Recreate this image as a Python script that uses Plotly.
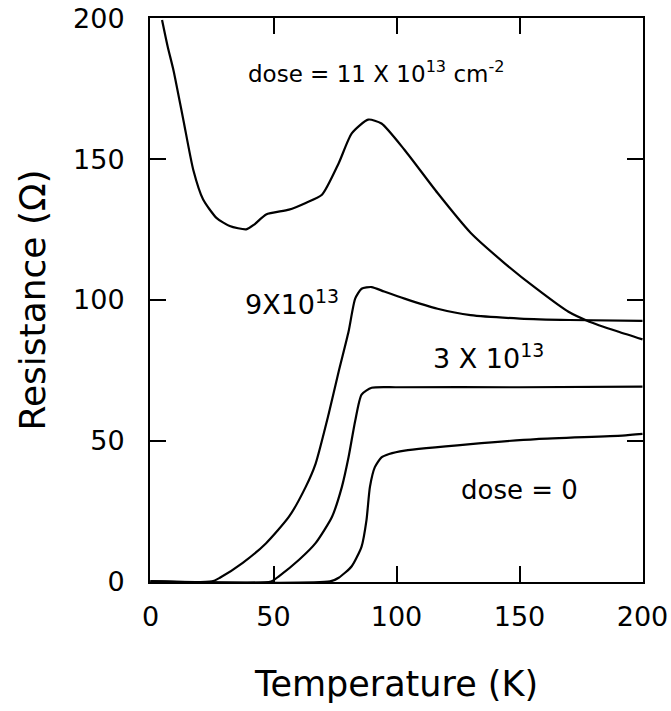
import plotly.graph_objects as go

# Temperature (K) / Resistance (Ohm)
T_d11 = [4.7, 7.0, 9.4, 13.4, 17.4, 21.4, 26.8, 32.2, 38.9, 42.3, 47.0, 56.3, 63.1, 69.7,
         76.5, 81.8, 88.5, 93.9, 103.3, 116.7, 130.1, 143.5, 156.9, 169.9, 178.4, 190.0, 200.0]
R_d11 = [199.5, 190.0, 181.4, 163.8, 146.2, 135.7, 129.2, 126.3, 125.1, 126.9, 130.4, 132.1, 134.5, 137.4,
         148.6, 159.2, 164.1, 162.7, 153.3, 138.0, 123.9, 113.4, 104.0, 95.8, 92.3, 88.8, 86.0]

T_d9 = [0, 25.0, 28.2, 37.5, 47.0, 56.3, 63.1, 67.1, 72.4, 76.5, 80.5, 83.2, 85.8, 89.9,
        95.0, 103.3, 116.7, 130.1, 150.2, 170.3, 200.0]
R_d9 = [0, 0, 1.3, 6.6, 13.6, 23.0, 33.6, 41.8, 59.4, 74.6, 88.7, 100.5, 104.0, 104.6,
        103.0, 100.5, 96.9, 94.6, 93.4, 92.9, 92.6]

T_d3 = [0, 49.0, 52.3, 60.4, 67.1, 73.8, 77.8, 80.5, 83.2, 85.8, 89.9, 100.0, 150.0, 200.0]
R_d3 = [0, 0, 1.9, 7.7, 13.6, 23.0, 33.6, 44.1, 57.0, 66.4, 68.8, 69.0, 69.0, 69.2]

T_d0 = [0, 73.0, 76.5, 81.8, 85.8, 87.8, 89.2, 91.2, 93.9, 97.0, 103.3, 130.1, 156.9, 191.8, 200.0]
R_d0 = [0, 0, 1.3, 5.4, 12.4, 21.8, 33.6, 40.6, 44.1, 45.3, 46.5, 48.8, 50.6, 51.8, 52.4]

x_ticks = [0, 50, 100, 150, 200]
y_ticks = [0, 50, 100, 150, 200]

labels = ["dose = 11 X 10<sup>13</sup> cm<sup>-2</sup>", "9X10<sup>13</sup>",
          "3 X 10<sup>13</sup>", "dose = 0"]
label_T = [39, 37.4, 113.9, 125.6]
label_R = [181, 99, 80, 32.4]
label_size = [23, 27, 27, 26]

FONT = "DejaVu Sans"

fig = go.Figure()
for T, R in [(T_d11, R_d11), (T_d9, R_d9), (T_d3, R_d3), (T_d0, R_d0)]:
    fig.add_trace(go.Scatter(x=T, y=R, mode="lines",
                             line=dict(color="black", width=2.2, shape="spline", smoothing=0.6),
                             showlegend=False, hoverinfo="skip"))

for txt, tx, ry, fs in zip(labels, label_T, label_R, label_size):
    fig.add_annotation(x=tx, y=ry, text=txt, showarrow=False, xanchor="left", yanchor="middle",
                       font=dict(family=FONT, size=fs, color="black"))

axis_common = dict(showline=True, linewidth=2, linecolor="black", mirror="ticks",
                   ticks="inside", ticklen=16, tickwidth=2, tickcolor="black",
                   showgrid=False, zeroline=False, ticklabeloverflow="allow", automargin=False,
                   tickfont=dict(family=FONT, size=27, color="black"))

fig.update_xaxes(range=[-0.2, 200.2], tickvals=x_ticks, ticktext=[str(v) for v in x_ticks],
                 ticklabelstandoff=10,
                 title=dict(text="Temperature (K)", font=dict(family=FONT, size=35, color="black"),
                            standoff=40),
                 **axis_common)
fig.update_yaxes(range=[-0.2, 200.2], tickvals=y_ticks, ticktext=[str(v) for v in y_ticks],
                 ticklabelstandoff=18,
                 title=dict(text="Resistance (Ω)", font=dict(family=FONT, size=36, color="black"),
                            standoff=16),
                 **axis_common)

fig.update_layout(width=671, height=711, autosize=False,
                  margin=dict(l=150, r=28, t=18, b=129),
                  plot_bgcolor="white", paper_bgcolor="white")

fig.write_html("out.html")
